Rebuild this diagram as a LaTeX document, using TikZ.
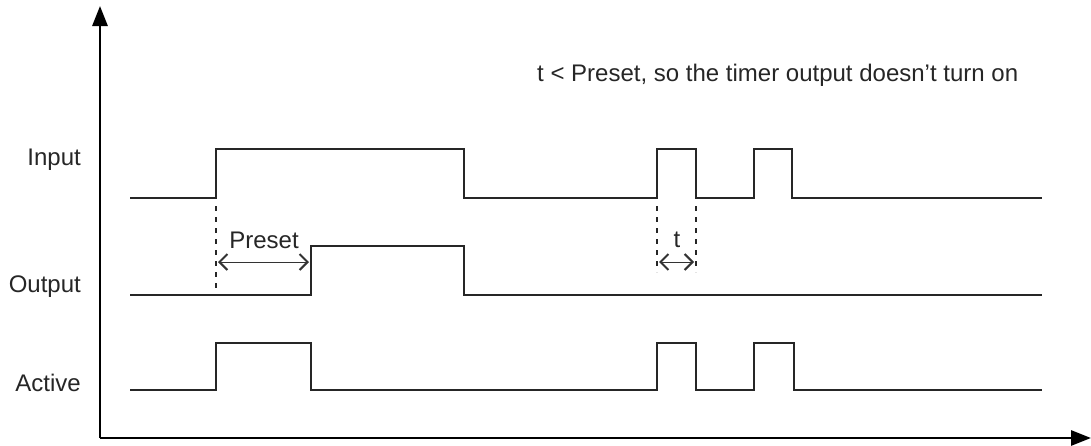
\documentclass[tikz,border=0pt]{standalone}
\usepackage{fontspec}
\setmainfont{Liberation Sans}
\usetikzlibrary{arrows.meta}
\begin{document}
\begin{tikzpicture}[x=1pt,y=-1pt,
  sig/.style={line width=2.8pt, color=black!85, line join=miter},
  axis/.style={line width=2.8pt, -{Triangle[length=20pt,width=15pt]}},
  guide/.style={line width=2.6pt, dash pattern=on 5pt off 6pt, color=black!85},
  dim/.style={line width=1pt, color=black!80, {Straight Barb[length=8pt,width=16pt,line width=2pt]}-{Straight Barb[length=8pt,width=16pt,line width=2pt]}},
  lbl/.style={font=\fontsize{24}{28}\selectfont, inner sep=0pt, color=black!85}]
\useasboundingbox (0,0) rectangle (1091,445);
% axes
\coordinate (O) at (100,438);
\coordinate (ytip) at (100,6);
\coordinate (xtip) at (1091,438);
\draw[axis] (O) -- (ytip);
\draw[axis] (O) -- (xtip);
% labels
\node[lbl, anchor=east] (lin) at (81,160) {Input};
\node[lbl, anchor=east] (lout) at (81,287) {Output};
\node[lbl, anchor=east] (lact) at (81,383) {Active};
\node[lbl, anchor=west] (note) at (537,75) {t < Preset, so the timer output doesn’t turn on};
% Input
\draw[sig] (130,198) -- (216,198) -- (216,149) -- (464,149) -- (464,198) -- (657,198) -- (657,149) -- (696,149) -- (696,198) -- (754,198) -- (754,149) -- (792,149) -- (792,198) -- (1042,198);
% Output
\draw[sig] (130,295) -- (311,295) -- (311,246) -- (464,246) -- (464,295) -- (1042,295);
% Active
\draw[sig] (130,390) -- (216,390) -- (216,343) -- (311,343) -- (311,390) -- (657,390) -- (657,343) -- (696,343) -- (696,390) -- (754,390) -- (754,343) -- (794,343) -- (794,390) -- (1042,390);
% guides
\draw[guide] (216,206) -- (216,295);
\draw[guide] (657,206) -- (657,272);
\draw[guide] (696,206) -- (696,272);
% dimensions
\coordinate (pa) at (218,262);
\coordinate (pb) at (309,262);
\draw[dim] (pa) -- (pb);
\node[lbl] (preset) at (264,240) {Preset};
\coordinate (ta) at (659,262);
\coordinate (tb) at (694,262);
\draw[dim] (ta) -- (tb);
\node[lbl] (tl) at (677,240) {t};
\end{tikzpicture}
\end{document}
